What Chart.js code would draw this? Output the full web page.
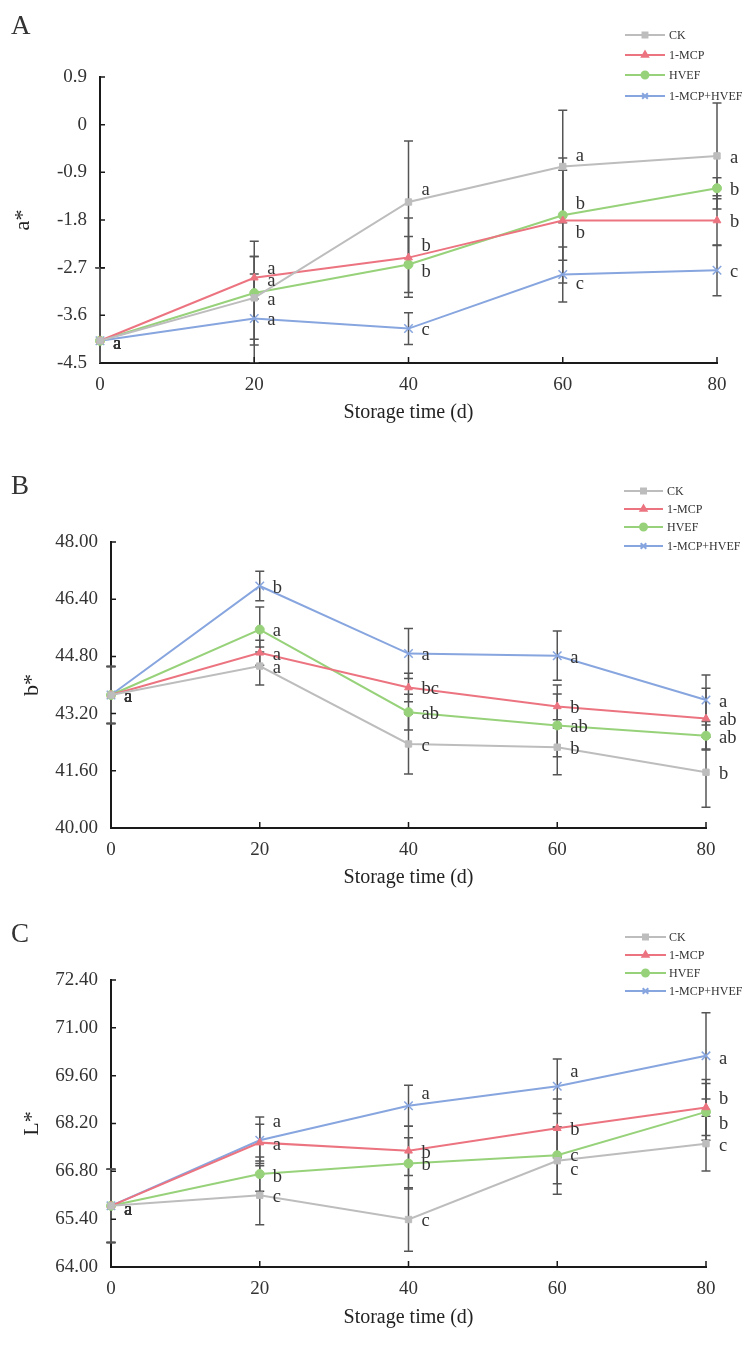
<!DOCTYPE html>
<html>
<head>
<meta charset="utf-8">
<script src="https://cdn.jsdelivr.net/npm/chart.js@4.4.0/dist/chart.umd.min.js"></script>
<style>
body { margin: 0; background: #fff; }
#page { position: relative; width: 753px; height: 1363px; overflow: hidden; }
canvas { position: absolute; left: 0; }
.tag { position: absolute; left: 11px; font-family: 'Liberation Serif', serif; font-size: 27px; line-height: 30px; color: #333; }
</style>
</head>
<body>
<div id="page">
  <canvas id="chartA" width="753" height="440" style="top:0px"></canvas>
  <canvas id="chartB" width="753" height="460" style="top:440px"></canvas>
  <canvas id="chartC" width="753" height="463" style="top:900px"></canvas>
  <div class="tag" style="top:10px">A</div>
  <div class="tag" style="top:470px">B</div>
  <div class="tag" style="top:918px">C</div>
</div>
<script>
// shared
const series = ['CK', '1-MCP', 'HVEF', '1-MCP+HVEF']
const days = [0, 20, 40, 60, 80]
const colors = ['#BDBDBD', '#EC7480', '#97D27A', '#87A5DE']
const markers = ['rect', 'triangle', 'circle', 'crossRot']

//#region A : a*
const aValues = [
    [-4.08, -3.27, -1.46, -0.79, -0.59],
    [-4.08, -2.89, -2.51, -1.81, -1.81],
    [-4.08, -3.18, -2.64, -1.71, -1.20],
    [-4.08, -3.66, -3.85, -2.83, -2.75]
]
const aErrors = [
    [1.38, 0.78, 1.15, 1.06, 1.00],
    [1.38, 0.40, 0.75, 1.18, 0.47],
    [1.38, 0.98, 0.53, 0.85, 0.20],
    [1.38, 0.84, 0.30, 0.52, 0.48]
]
const aLetters = [
    ['a', 'a', 'a', 'a', 'a'],
    ['a', 'a', 'b', 'b', 'b'],
    ['a', 'a', 'b', 'b', 'b'],
    ['a', 'a', 'c', 'c', 'c']
]
const aTicks = [-4.5, -3.6, -2.7, -1.8, -0.9, 0, 0.9]
const aTickLabels = ['-4.5', '-3.6', '-2.7', '-1.8', '-0.9', '0', '0.9']
//#endregion

//#region B : b*
const bValues = [
    [43.72, 44.53, 42.35, 42.26, 41.56],
    [43.72, 44.90, 43.93, 43.40, 43.06],
    [43.72, 45.55, 43.24, 42.87, 42.58],
    [43.72, 46.77, 44.88, 44.82, 43.58]
]
const bErrors = [
    [0.80, 0.53, 0.84, 0.77, 0.98],
    [0.80, 0.35, 0.40, 0.60, 0.85],
    [0.80, 0.63, 0.50, 0.88, 0.40],
    [0.80, 0.41, 0.70, 0.69, 0.70]
]
const bLetters = [
    ['a', 'a', 'c', 'b', 'b'],
    ['a', 'a', 'bc', 'b', 'ab'],
    ['a', 'a', 'ab', 'ab', 'ab'],
    ['a', 'b', 'a', 'a', 'a']
]
const bTicks = [40, 41.6, 43.2, 44.8, 46.4, 48]
const bTickLabels = ['40.00', '41.60', '43.20', '44.80', '46.40', '48.00']
//#endregion

//#region C : L*
const cValues = [
    [65.79, 66.10, 65.39, 67.11, 67.61],
    [65.79, 67.64, 67.40, 68.06, 68.67],
    [65.79, 66.72, 67.03, 67.27, 68.54],
    [65.79, 67.71, 68.72, 69.29, 70.18]
]
const cErrors = [
    [1.07, 0.86, 0.93, 0.98, 0.80],
    [1.07, 0.54, 0.72, 0.86, 0.82],
    [1.07, 0.50, 0.75, 0.83, 0.83],
    [1.07, 0.68, 0.60, 0.80, 1.26]
]
const cLetters = [
    ['a', 'c', 'c', 'c', 'c'],
    ['a', 'a', 'b', 'b', 'b'],
    ['a', 'b', 'b', 'c', 'b'],
    ['a', 'a', 'a', 'a', 'a']
]
const cTicks = [64, 65.4, 66.8, 68.2, 69.6, 71, 72.4]
const cTickLabels = ['64.00', '65.40', '66.80', '68.20', '69.60', '71.00', '72.40']
//#endregion

// letter nudges in px (so they don't sit on each other)
const nudgeA = [[3, 2, -12, -10, 2], [3, -9, -11, 13, 2], [3, -12, 8, -11, 2], [3, 2, 2, 10, 2]]
const nudgeB = [[2, 2, 2, 2, 2], [2, 2, 2, 2, 2], [2, 2, 2, 2, 2], [2, 2, 2, 2, 2]]
const nudgeC = [[4, 2, 2, 9, 2], [4, 3, 2, 2, -8], [4, 3, 2, 1, 12], [4, -18, -12, -14, 3]]

const serif = 'Liberation Serif'
const ink = '#333'

const makeExtras = (p) => ({
    id: 'extras',
    beforeDatasetsDraw(chart) {
        const {ctx, chartArea, scales: {x, y}} = chart
        ctx.save()
        ctx.beginPath()
        ctx.rect(chartArea.left - 6, chartArea.top - 20, chartArea.width + 12, chartArea.height + 20)
        ctx.clip()
        ctx.strokeStyle = '#555'
        ctx.lineWidth = 1.5
        p.errors.forEach((errs, s) => {
            errs.forEach((e, i) => {
                const v = p.values[s][i]
                const px = x.getPixelForValue(days[i])
                const top = y.getPixelForValue(v + e)
                const bot = y.getPixelForValue(v - e)
                ctx.beginPath()
                ctx.moveTo(px, top); ctx.lineTo(px, bot)
                ctx.moveTo(px - 4.5, top); ctx.lineTo(px + 4.5, top)
                ctx.moveTo(px - 4.5, bot); ctx.lineTo(px + 4.5, bot)
                ctx.stroke()
            })
        })
        ctx.restore()
    },
    afterDraw(chart) {
        const {ctx, chartArea, scales: {x, y}} = chart
        ctx.save()
        // inward tick marks
        ctx.strokeStyle = '#1a1a1a'
        ctx.lineWidth = 1.5
        ctx.beginPath()
        p.ticks.forEach(v => {
            const py = y.getPixelForValue(v)
            ctx.moveTo(chartArea.left, py); ctx.lineTo(chartArea.left + 5, py)
        })
        days.slice(1).forEach(d => {
            const px = x.getPixelForValue(d)
            ctx.moveTo(px, chartArea.bottom); ctx.lineTo(px, chartArea.bottom - 6)
        })
        ctx.stroke()

        // significance letters
        ctx.fillStyle = ink
        ctx.font = '18.5px "' + serif + '"'
        ctx.textAlign = 'left'
        ctx.textBaseline = 'middle'
        p.letters.forEach((row, s) => {
            row.forEach((t, i) => {
                const px = x.getPixelForValue(days[i]) + 13
                const py = y.getPixelForValue(p.values[s][i]) + p.nudges[s][i]
                ctx.fillText(t, px, py)
            })
        })

        // legend
        chart.data.datasets.forEach((ds, s) => {
            const ly = p.legendY[s]
            ctx.strokeStyle = ds.borderColor
            ctx.lineWidth = 2
            ctx.beginPath()
            ctx.moveTo(p.legendX[0], ly); ctx.lineTo(p.legendX[1], ly)
            ctx.stroke()
            ctx.fillStyle = ds.backgroundColor
            Chart.helpers.drawPoint(ctx, {
                pointStyle: ds.pointStyle,
                radius: ds.pointStyle === 'crossRot' ? 4 : 3.5,
                borderWidth: 1.2,
                rotation: 0
            }, (p.legendX[0] + p.legendX[1]) / 2, ly)
            ctx.fillStyle = ink
            ctx.font = '12px "' + serif + '"'
            ctx.fillText(ds.label, p.legendX[2], ly + 1)
        })
        ctx.restore()
    }
})

function CriaPainel(p) {
    const datasets = series.map((name, s) => ({
        label: name,
        data: days.map((d, i) => ({x: d, y: p.values[s][i]})),
        borderColor: colors[s],
        backgroundColor: colors[s],
        borderWidth: 2,
        pointStyle: markers[s],
        pointRadius: markers[s] === 'crossRot' ? 6 : 4.5,
        pointBorderWidth: markers[s] === 'crossRot' ? 1.5 : 1,
        tension: 0,
        clip: false
    }))

    new Chart(document.getElementById(p.id), {
        type: 'line',
        data: {datasets},
        options: {
            responsive: false,
            animation: false,
            devicePixelRatio: 1,
            layout: {padding: {top: p.top, left: 0, right: p.right, bottom: 0}},
            plugins: {legend: {display: false}, tooltip: {enabled: false}},
            scales: {
                x: {
                    type: 'linear', min: 0, max: 80,
                    afterBuildTicks: s => { s.ticks = days.map(v => ({value: v})) },
                    afterFit: s => { s.height = p.xHeight },
                    grid: {display: false, drawTicks: false},
                    border: {display: true, color: '#1a1a1a', width: 2},
                    ticks: {padding: 11, color: ink, autoSkip: false, maxRotation: 0,
                        font: {family: serif, size: 19}},
                    title: {display: true, text: 'Storage time (d)', color: '#222',
                        font: {family: serif, size: 20}, padding: {top: 0, bottom: p.xTitlePad}}
                },
                y: {
                    type: 'linear', min: p.ticks[0], max: p.ticks[p.ticks.length - 1],
                    afterBuildTicks: s => { s.ticks = p.ticks.map(v => ({value: v})) },
                    afterFit: s => { s.width = p.left },
                    grid: {display: false, drawTicks: false},
                    border: {display: true, color: '#1a1a1a', width: 2},
                    ticks: {padding: 13, color: ink, callback: (v, i) => p.tickLabels[i],
                        font: {family: serif, size: 19}},
                    title: {display: true, text: p.yTitle, color: '#222',
                        font: {family: serif, size: 22}, padding: {top: p.yTitlePad, bottom: 0}}
                }
            }
        },
        plugins: [makeExtras(p)]
    })
}

CriaPainel({
    id: 'chartA', values: aValues, errors: aErrors, letters: aLetters, nudges: nudgeA,
    ticks: aTicks, tickLabels: aTickLabels, yTitle: 'a*',
    top: 77, left: 100, right: 36, xHeight: 77, xTitlePad: 15, yTitlePad: 10,
    legendY: [35, 55, 75, 96], legendX: [625, 665, 669]
})
CriaPainel({
    id: 'chartB', values: bValues, errors: bErrors, letters: bLetters, nudges: nudgeB,
    ticks: bTicks, tickLabels: bTickLabels, yTitle: 'b*',
    top: 102, left: 111, right: 47, xHeight: 72, xTitlePad: 10, yTitlePad: 19,
    legendY: [51, 69, 87, 106], legendX: [624, 663, 667]
})
CriaPainel({
    id: 'chartC', values: cValues, errors: cErrors, letters: cLetters, nudges: nudgeC,
    ticks: cTicks, tickLabels: cTickLabels, yTitle: 'L*',
    top: 80, left: 111, right: 47, xHeight: 96, xTitlePad: 33, yTitlePad: 19,
    legendY: [37, 55, 73, 91], legendX: [625, 666, 669]
})
</script>
</body>
</html>
